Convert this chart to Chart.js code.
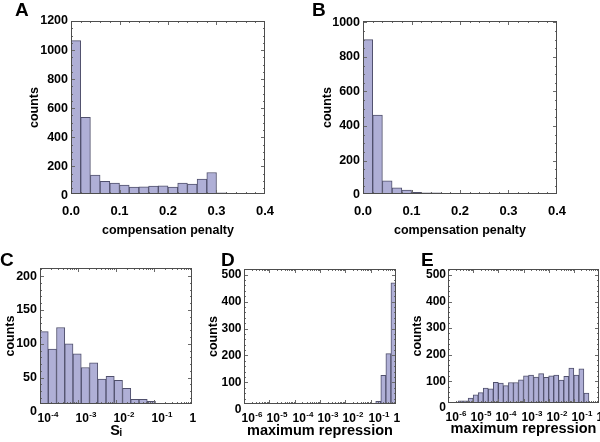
<!DOCTYPE html>
<html>
<head>
<meta charset="utf-8">
<script src="https://cdn.jsdelivr.net/npm/chart.js@4.4.0/dist/chart.umd.min.js"></script>
<style>
  html, body { margin: 0; padding: 0; background: #fff; }
  #wrap { position: relative; width: 600px; height: 442px; overflow: hidden; }
  .panel { position: absolute; }
  .tag { position: absolute; font: bold 19px 'Liberation Sans', Arial, sans-serif; line-height: 19px; color: #000; }
</style>
</head>
<body>
<div id="wrap">
  <div class="panel" style="left:0;top:0"><canvas id="cA" width="300" height="242"></canvas></div>
  <div class="panel" style="left:300px;top:0"><canvas id="cB" width="300" height="242"></canvas></div>
  <div class="panel" style="left:0;top:242px"><canvas id="cC" width="200" height="200"></canvas></div>
  <div class="panel" style="left:200px;top:242px"><canvas id="cD" width="200" height="200"></canvas></div>
  <div class="panel" style="left:400px;top:242px"><canvas id="cE" width="200" height="200"></canvas></div>
  <div class="tag" style="left:15px;top:0px">A</div>
  <div class="tag" style="left:312px;top:0px">B</div>
  <div class="tag" style="left:0px;top:250px">C</div>
  <div class="tag" style="left:221px;top:250px">D</div>
  <div class="tag" style="left:421px;top:250px">E</div>
</div>
<script>
// --- A: compensation penalty histogram (bin centres, width 0.02)
const binsA = [0.01, 0.03, 0.05, 0.07, 0.09, 0.11, 0.13, 0.15, 0.17, 0.19, 0.21, 0.23, 0.25, 0.27, 0.29, 0.31];
const countsA = [1065, 538, 140, 98, 85, 72, 58, 60, 64, 67, 58, 85, 78, 112, 158, 18];

// --- B
const binsB = [0.01, 0.03, 0.05, 0.07, 0.09, 0.11, 0.13, 0.15, 0.17];
const countsB = [900, 463, 83, 42, 29, 16, 13, 13, 10];

// --- C: S_i, bin centres in log10
const binsC = [-3.891, -3.674, -3.457, -3.240, -3.023, -2.806, -2.588, -2.371, -2.154, -1.937, -1.720, -1.503, -1.286, -1.069, -0.851];
const countsC = [118, 92, 124, 100, 85, 65, 72, 48, 52, 46, 34, 18, 18, 15, 12];

// --- D: maximum repression (log10)
const binsD = [-0.7, -0.5, -0.3, -0.1];
const countsD = [30, 126, 207, 470];

// --- E
const binsE = [-5.5, -5.3, -5.1, -4.9, -4.7, -4.5, -4.3, -4.1, -3.9, -3.7, -3.5, -3.3, -3.1,
               -2.9, -2.7, -2.5, -2.3, -2.1, -1.9, -1.7, -1.5, -1.3, -1.1, -0.9, -0.7, -0.5];
const countsE = [27, 27, 37, 50, 58, 75, 72, 97, 94, 84, 96, 96, 106, 121, 124, 116, 129, 115, 121, 124, 105, 119, 150, 124, 147, 56];

// tick labels
const penaltyTicks = [0, 0.1, 0.2, 0.3, 0.4];
const penaltyLabels = ['0.0', '0.1', '0.2', '0.3', '0.4'];
const countTicksA = [0, 200, 400, 600, 800, 1000, 1200];
const countTicksB = [0, 200, 400, 600, 800, 1000];
const countTicksC = [0, 50, 100, 150, 200];
const countTicksDE = [0, 100, 200, 300, 400, 500];
// log ticks: base text + exponent text
const logTicksC = [-4, -3, -2, -1, 0];
const logLabelsC = [['10', '-4'], ['10', '-3'], ['10', '-2'], ['10', '-1'], ['1', '']];
const logTicksDE = [-6, -5, -4, -3, -2, -1, 0];
const logLabelsDE = [['10', '-6'], ['10', '-5'], ['10', '-4'], ['10', '-3'], ['10', '-2'], ['10', '-1'], ['1', '']];

const FONT = "'Liberation Sans', Arial, sans-serif";
const barFill = 'rgb(175,175,214)';
const barEdge = 'rgb(80,80,108)';
const frameColor = '#4d4d4d';

function stepList(lo, hi, step) {
  const out = [];
  for (let v = lo; v <= hi + 1e-9; v += step) out.push(+v.toFixed(6));
  return out;
}
function logMinor(lo, hi) {
  const out = [];
  for (let d = lo; d < hi; d++) for (let k = 2; k < 10; k++) out.push(d + Math.log10(k));
  return out;
}

// frame + inward ticks on all four sides
const frameTicks = {
  id: 'frameTicks',
  afterDatasetsDraw(chart, args, o) {
    const { ctx, chartArea: a, scales: { x, y } } = chart;
    ctx.save();
    ctx.strokeStyle = '#6a6a6a';
    ctx.lineWidth = 1;
    ctx.beginPath();
    const mark = (vals, len, scale, horiz) => vals.forEach(v => {
      const p = Math.round(scale.getPixelForValue(v)) + 0.5;
      if (horiz) {
        if (p < a.left + 1 || p > a.right - 1) return;
        ctx.moveTo(p, a.bottom); ctx.lineTo(p, a.bottom - len);
        ctx.moveTo(p, a.top); ctx.lineTo(p, a.top + len);
      } else {
        if (p < a.top + 1 || p > a.bottom - 1) return;
        ctx.moveTo(a.left, p); ctx.lineTo(a.left + len, p);
        ctx.moveTo(a.right, p); ctx.lineTo(a.right - len, p);
      }
    });
    mark(o.xMajor, 4, x, true); mark(o.xMinor, 2, x, true);
    mark(o.yMajor, 4, y, false); mark(o.yMinor, 2, y, false);
    ctx.stroke();
    ctx.strokeStyle = frameColor;
    ctx.strokeRect(Math.round(a.left) + 0.5, Math.round(a.top) + 0.5,
                   Math.round(a.right - a.left) - 1, Math.round(a.bottom - a.top) - 1);
    ctx.restore();
  }
};

// power-of-ten tick labels with a raised exponent
const powerLabels = {
  id: 'powerLabels',
  afterDraw(chart, args, o) {
    if (!o.labels) return;
    const { ctx, chartArea: a, scales: { x } } = chart;
    ctx.save();
    ctx.fillStyle = '#000';
    ctx.textAlign = 'left';
    ctx.textBaseline = 'alphabetic';
    o.ticks.forEach((v, i) => {
      const [base, exp] = o.labels[i];
      const px = Math.round(x.getPixelForValue(v)) - 2.5;
      const py = a.bottom + 18;
      ctx.font = 'bold 12px ' + FONT;
      ctx.fillText(base, px, py);
      if (exp) {
        const w = ctx.measureText(base).width;
        ctx.font = 'bold 8px ' + FONT;
        ctx.fillText(exp, px + w + 0.5, py - 5.5);
      }
    });
    ctx.restore();
  }
};

function panel(id, p) {
  const canvas = document.getElementById(id);
  const W = canvas.width, H = canvas.height;
  const [L, T, R, B] = p.area;
  return new Chart(canvas, {
    type: 'bar',
    data: {
      datasets: [{
        data: p.xs.map((x, i) => ({ x, y: p.ys[i] })),
        backgroundColor: barFill,
        borderColor: barEdge,
        borderWidth: 1,
        barPercentage: 1,
        categoryPercentage: 1,
        clip: 0
      }]
    },
    options: {
      responsive: false,
      animation: false,
      layout: { padding: { left: 0, top: T, right: W - R, bottom: 0 } },
      plugins: {
        legend: { display: false },
        tooltip: { enabled: false },
        frameTicks: { xMajor: p.xTicks, xMinor: p.xMinor, yMajor: p.yTicks, yMinor: p.yMinor },
        powerLabels: { ticks: p.xTicks, labels: p.powLabels }
      },
      scales: {
        x: {
          type: 'linear', offset: false, min: p.xMin, max: p.xMax,
          grid: { display: false, drawTicks: false },
          border: { display: false },
          afterBuildTicks: s => { s.ticks = p.xTicks.map(v => ({ value: v })); },
          afterFit: s => { s.height = H - B; },
          ticks: {
            display: !p.powLabels,
            autoSkip: false, maxRotation: 0, minRotation: 0, padding: 10,
            color: '#000', font: { family: FONT, weight: 'bold', size: 13 },
            callback: (v, i) => p.xLabels ? p.xLabels[i] : ''
          },
          title: {
            display: true, text: p.xTitle, color: '#000',
            font: { family: FONT, weight: 'bold', size: p.xTitleSize },
            padding: { top: 0, bottom: p.xTitlePad }
          }
        },
        y: {
          min: p.yMin, max: p.yMax,
          grid: { display: false, drawTicks: false },
          border: { display: false },
          afterBuildTicks: s => { s.ticks = p.yTicks.map(v => ({ value: v })); },
          afterFit: s => { s.width = L; },
          ticks: {
            autoSkip: false, padding: p.yPad, color: '#000',
            font: { family: FONT, weight: 'bold', size: p.yTickSize },
            callback: v => String(v)
          },
          title: {
            display: true, text: 'counts', color: '#000',
            font: { family: FONT, weight: 'bold', size: 12.5 },
            padding: { top: p.yTitlePad, bottom: 0 }
          }
        }
      }
    },
    plugins: [frameTicks, powerLabels]
  });
}

panel('cA', {
  area: [71, 21, 265, 194], xs: binsA, ys: countsA,
  xMin: 0, xMax: 0.4, xTicks: penaltyTicks, xLabels: penaltyLabels, xMinor: stepList(0, 0.4, 0.02),
  yTickSize: 12.5, xTitle: 'compensation penalty', xTitleSize: 12.5, xTitlePad: 4,
  yMin: 10, yMax: 1200, yTicks: countTicksA, yMinor: stepList(0, 1200, 50), yPad: 3, yTitlePad: 27.5
});
panel('cB', {
  area: [63, 21, 257, 194], xs: binsB, ys: countsB,
  xMin: 0, xMax: 0.4, xTicks: penaltyTicks, xLabels: penaltyLabels, xMinor: stepList(0, 0.4, 0.02),
  yTickSize: 12.5, xTitle: 'compensation penalty', xTitleSize: 12.5, xTitlePad: 4,
  yMin: 6, yMax: 1008, yTicks: countTicksB, yMinor: stepList(0, 1000, 50), yPad: 3, yTitlePad: 20
});
panel('cC', {
  area: [40, 26, 192, 162], xs: binsC, ys: countsC,
  xMin: -4, xMax: 0, xTicks: logTicksC, powLabels: logLabelsC, xMinor: logMinor(-4, 0),
  yTickSize: 12.5, xTitle: 'Sᵢ', xTitleSize: 14.5, xTitlePad: 2.6,
  yMin: 11, yMax: 212, yTicks: countTicksC, yMinor: stepList(0, 210, 10), yPad: 3, yTitlePad: 3.5
});
panel('cD', {
  area: [44, 27, 196, 162], xs: binsD, ys: countsD,
  xMin: -6, xMax: 0, xTicks: logTicksDE, powLabels: logLabelsDE, xMinor: logMinor(-6, 0),
  yTickSize: 12, xTitle: 'maximum repression', xTitleSize: 14.5, xTitlePad: 2.7,
  yMin: 20, yMax: 521, yTicks: countTicksDE, yMinor: stepList(0, 520, 20), yPad: 2.5, yTitlePad: 6.5
});
panel('cE', {
  area: [48, 27, 199, 161], xs: binsE, ys: countsE,
  xMin: -6, xMax: 0, xTicks: logTicksDE, powLabels: logLabelsDE, xMinor: logMinor(-6, 0),
  yTickSize: 12, xTitle: 'maximum repression', xTitleSize: 14.5, xTitlePad: 4,
  yMin: 19, yMax: 522, yTicks: countTicksDE, yMinor: stepList(0, 520, 20), yPad: 2, yTitlePad: 10.5
});
</script>
</body>
</html>
